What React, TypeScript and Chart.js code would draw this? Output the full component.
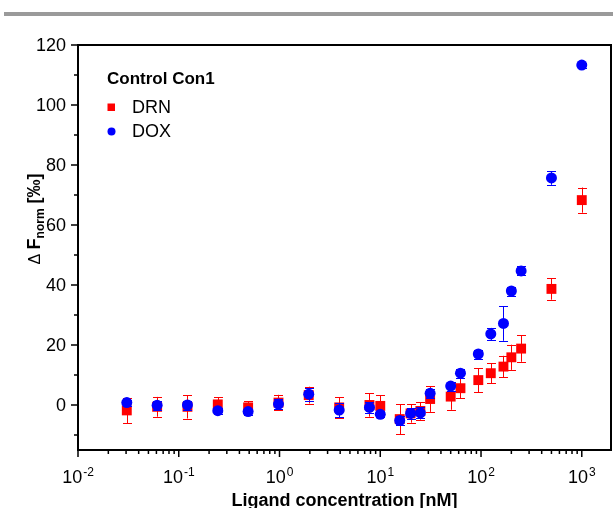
import React, { useEffect, useRef } from "react";
import { Chart, registerables } from "chart.js";

Chart.register(...registerables);

// ---- Data ----
const concentrations = [
  0.0305, 0.061, 0.122, 0.244, 0.488, 0.977, 1.95, 3.91, 7.81, 10, 15.6, 20, 25,
  31.25, 50, 62.5, 94, 125, 167, 200, 250, 500, 1000,
];
const drnValues = [
  -1.8, -0.6, -0.6, 0.2, -0.8, 0.8, 3.3, -0.8, 0, -0.3, -4.7, -2.8, -2.0, 2.0,
  2.8, 5.6, 8.3, 10.6, 12.8, 15.9, 18.8, 38.7, 68.3,
];
const drnErrors = [
  4.2, 3.3, 3.9, 2.4, 2.0, 2.6, 2.8, 3.4, 3.9, 3.6, 5.0, 3.1, 2.9, 4.3, 4.4, 3.3,
  4.0, 3.3, 3.6, 4.2, 4.4, 3.6, 4.2,
];
const doxValues = [
  0.8, -0.1, 0, -1.9, -2.2, 0.3, 3.6, -1.7, -0.8, -3.1, -5.2, -2.8, -2.6, 3.9,
  6.3, 10.6, 17.0, 23.7, 27.2, 38.0, 44.7, 75.7, 113.3,
];
const doxErrors = [
  1.0, 1.5, 1.5, 1.0, 1.0, 1.7, 2.1, 2.4, 1.7, 1.0, 1.5, 1.8, 1.8, 1.5, 1.5, 1.5,
  1.5, 2.0, 5.8, 1.5, 1.5, 2.3, 0.8,
];

const xMajorTicks = [0.01, 0.1, 1, 10, 100, 1000];
const xTickExponents = ["-2", "-1", "0", "1", "2", "3"];
const xMinorMultipliers = [2, 3, 4, 5, 6, 7, 8, 9];
const yMajorTicks = [0, 20, 40, 60, 80, 100, 120];
const yMinorTicks = [-10, 10, 30, 50, 70, 90, 110];

const seriesLabels = ["DRN", "DOX"];
const legendTitle = "Control Con1";
const xTitle = "Ligand concentration [nM]";

const RED = "#ff0000";
const BLUE = "#0000ff";
const FONT = '"Liberation Sans", Arial, Helvetica, sans-serif';

const errorsByLabel: Record<string, number[]> = { DRN: drnErrors, DOX: doxErrors };

const errorBarPlugin = {
  id: "errorBars",
  afterDatasetDraw(chart: any, args: any) {
    const ds = chart.data.datasets[args.index];
    const errs = errorsByLabel[ds.label];
    if (!errs) return;
    const { ctx, scales } = chart;
    const xs = scales.x;
    const ys = scales.y;
    ctx.save();
    ctx.strokeStyle = ds.borderColor;
    ctx.lineWidth = 1;
    ds.data.forEach((p: any, i: number) => {
      const e = errs[i];
      if (!e) return;
      const px = Math.round(xs.getPixelForValue(p.x)) + 0.5;
      const yTop = ys.getPixelForValue(p.y + e);
      const yBot = ys.getPixelForValue(p.y - e);
      ctx.beginPath();
      ctx.moveTo(px, yTop);
      ctx.lineTo(px, yBot);
      ctx.moveTo(px - 4.5, Math.round(yTop) + 0.5);
      ctx.lineTo(px + 4.5, Math.round(yTop) + 0.5);
      ctx.moveTo(px - 4.5, Math.round(yBot) + 0.5);
      ctx.lineTo(px + 4.5, Math.round(yBot) + 0.5);
      ctx.stroke();
    });
    ctx.restore();
  },
};

const axesPlugin = {
  id: "customAxes",
  beforeDraw(chart: any) {
    const { ctx } = chart;
    ctx.save();
    ctx.fillStyle = "#9a9a9a";
    ctx.fillRect(4, 12, chart.width - 4, 4);
    ctx.restore();
  },
  afterDraw(chart: any) {
    const { ctx, chartArea, scales } = chart;
    const { left, right, top, bottom } = chartArea;
    const xs = scales.x;
    const ys = scales.y;
    ctx.save();
    ctx.strokeStyle = "#000";
    ctx.fillStyle = "#000";

    // frame
    ctx.lineWidth = 2;
    ctx.strokeRect(left, top, right - left, bottom - top);

    // y ticks
    ctx.lineWidth = 1.5;
    ctx.beginPath();
    yMajorTicks.forEach((v) => {
      const py = ys.getPixelForValue(v);
      ctx.moveTo(left - 7, py);
      ctx.lineTo(left, py);
    });
    yMinorTicks.forEach((v) => {
      const py = ys.getPixelForValue(v);
      ctx.moveTo(left - 4, py);
      ctx.lineTo(left, py);
    });
    // x ticks
    xMajorTicks.forEach((v) => {
      const px = xs.getPixelForValue(v);
      ctx.moveTo(px, bottom);
      ctx.lineTo(px, bottom + 7);
      if (v < 1000) {
        xMinorMultipliers.forEach((m) => {
          const mx = xs.getPixelForValue(v * m);
          ctx.moveTo(mx, bottom);
          ctx.lineTo(mx, bottom + 4);
        });
      }
    });
    ctx.stroke();

    // y tick labels
    ctx.font = `18px ${FONT}`;
    ctx.textAlign = "right";
    ctx.textBaseline = "middle";
    yMajorTicks.forEach((v) => {
      ctx.fillText(String(v), left - 12, ys.getPixelForValue(v) + 1);
    });

    // x tick labels with superscript exponents
    ctx.textAlign = "left";
    ctx.textBaseline = "alphabetic";
    xMajorTicks.forEach((v, i) => {
      const px = xs.getPixelForValue(v);
      ctx.font = `18px ${FONT}`;
      const bw = ctx.measureText("10").width;
      ctx.font = `12px ${FONT}`;
      const ew = ctx.measureText(xTickExponents[i]).width;
      const x0 = px - (bw + 1 + ew) / 2;
      ctx.font = `18px ${FONT}`;
      ctx.fillText("10", x0, bottom + 33);
      ctx.font = `12px ${FONT}`;
      ctx.fillText(xTickExponents[i], x0 + bw + 1, bottom + 26);
    });

    // x title
    ctx.font = `bold 18px ${FONT}`;
    ctx.textAlign = "center";
    ctx.fillText(xTitle, (left + right) / 2, bottom + 56);

    // y title (rotated)
    const parts = [
      { t: "Δ ", f: `16px ${FONT}`, dy: 0 },
      { t: "F", f: `bold 18px ${FONT}`, dy: 0 },
      { t: "norm", f: `bold 12px ${FONT}`, dy: 4 },
      { t: " [‰]", f: `bold 18px ${FONT}`, dy: 0 },
    ];
    let total = 0;
    parts.forEach((p) => {
      ctx.font = p.f;
      total += ctx.measureText(p.t).width;
    });
    ctx.save();
    ctx.translate(40, 219);
    ctx.rotate(-Math.PI / 2);
    ctx.textAlign = "left";
    let cx = -total / 2;
    parts.forEach((p) => {
      ctx.font = p.f;
      ctx.fillText(p.t, cx, p.dy);
      cx += ctx.measureText(p.t).width;
    });
    ctx.restore();

    // legend
    ctx.textAlign = "left";
    ctx.font = `bold 17px ${FONT}`;
    ctx.fillText(legendTitle, left + 29, top + 39);
    ctx.font = `18px ${FONT}`;
    ctx.fillStyle = RED;
    ctx.fillRect(left + 29.5, top + 58.5, 7.5, 7.5);
    ctx.fillStyle = "#000";
    ctx.fillText(seriesLabels[0], left + 54, top + 68);
    ctx.fillStyle = BLUE;
    ctx.beginPath();
    ctx.arc(left + 33.5, top + 86.5, 4, 0, Math.PI * 2);
    ctx.fill();
    ctx.fillStyle = "#000";
    ctx.fillText(seriesLabels[1], left + 54, top + 92);

    ctx.restore();
  },
};

export default function App() {
  const canvasRef = useRef<HTMLCanvasElement | null>(null);

  useEffect(() => {
    document.body.style.margin = "0";
    const canvas = canvasRef.current;
    if (!canvas) return;
    const chart = new Chart(canvas, {
      type: "scatter",
      data: {
        datasets: [
          {
            label: seriesLabels[0],
            data: concentrations.map((c, i) => ({ x: c, y: drnValues[i] })),
            pointStyle: "rect",
            pointRadius: 7,
            backgroundColor: RED,
            borderColor: RED,
            borderWidth: 0,
            order: 2,
          },
          {
            label: seriesLabels[1],
            data: concentrations.map((c, i) => ({ x: c, y: doxValues[i] })),
            pointStyle: "circle",
            pointRadius: 5.5,
            backgroundColor: BLUE,
            borderColor: BLUE,
            borderWidth: 0,
            order: 1,
          },
        ],
      },
      options: {
        animation: false,
        responsive: false,
        events: [],
        layout: { autoPadding: false, padding: { left: 78, top: 45, right: 2, bottom: 58 } },
        scales: {
          x: { type: "logarithmic", min: 0.01, max: 1950, display: false },
          y: { type: "linear", min: -15, max: 120, display: false },
        },
        plugins: {
          legend: { display: false },
          tooltip: { enabled: false },
        },
      },
      plugins: [errorBarPlugin, axesPlugin],
    } as any);
    return () => chart.destroy();
  }, []);

  return (
    <div style={{ width: 613, height: 508 }}>
      <canvas ref={canvasRef} width={613} height={508} style={{ width: 613, height: 508, display: "block" }} />
    </div>
  );
}
